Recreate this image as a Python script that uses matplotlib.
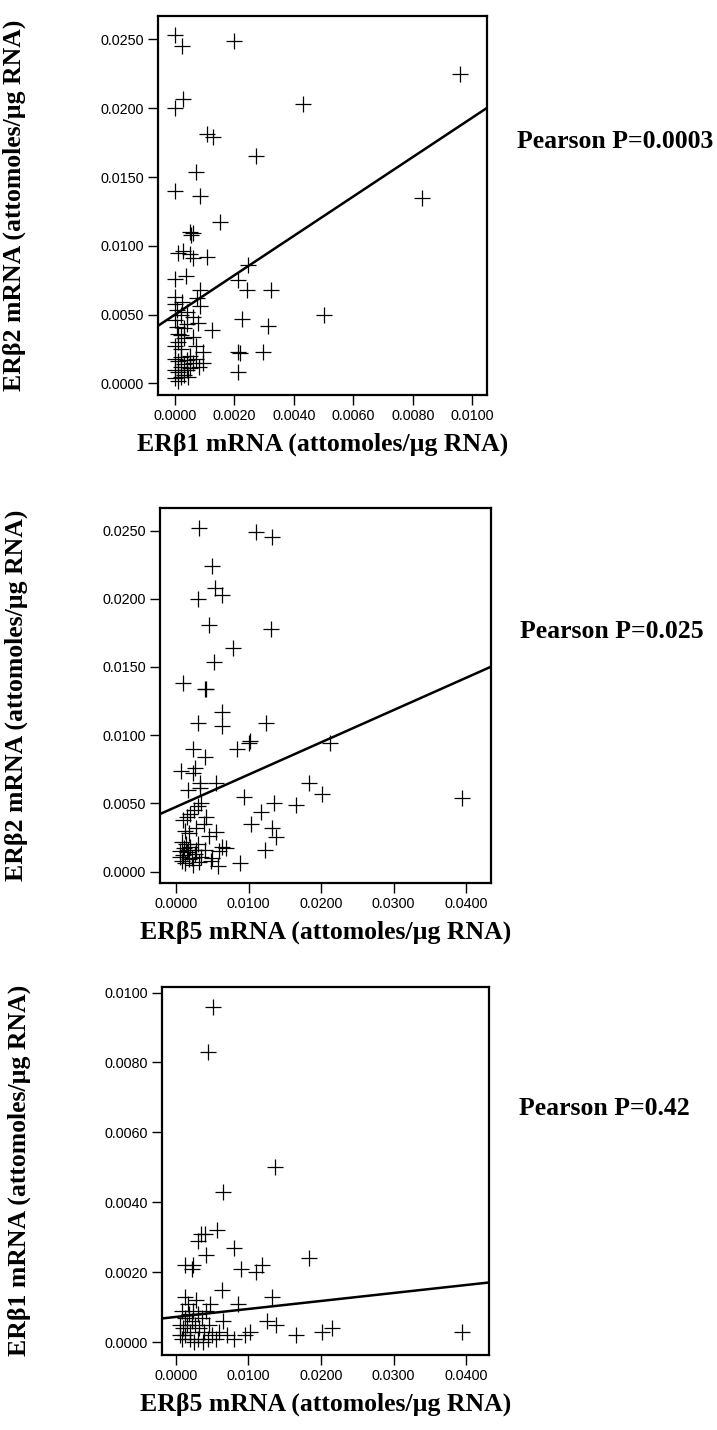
import numpy as np
import matplotlib
matplotlib.use('Agg')
import matplotlib.pyplot as plt
from matplotlib.ticker import FormatStrFormatter, MultipleLocator

# panel 1: ERb1 (x) vs ERb2 (y)
erb1_p1 = [0.0000, 0.00022, 0.0020, 0.00028, 0.0000, 0.0043, 0.0096, 0.00108, 0.00128, 0.00273,
           0.00071, 0.0000, 0.00084, 0.0083, 0.0050, 0.00152, 0.0005, 0.0006, 0.00055, 0.00011,
           0.00028, 0.0005, 0.00062, 0.00109, 0.00247, 0.0000, 0.00037, 0.00213, 0.00241, 0.00322,
           0.00084, 0.00073, 0.0000, 0.00022, 0.00006, 0.00084, 0.00225, 0.00079, 0.00039, 0.00006,
           0.00314, 0.00124, 0.00213, 0.00219, 0.00295, 0.00095, 0.00213, 0.00095, 0.00045,
           0.0000, 0.0001, 0.0002, 0.0003, 0.0000, 0.0001, 0.0002, 0.0003, 0.0004, 0.0005,
           0.0006, 0.0000, 0.0001, 0.0002, 0.0003, 0.0004, 0.0000, 0.0001, 0.0002, 0.0005,
           0.0007, 0.0008, 0.0000, 0.0002, 0.0004, 0.0001, 0.0003, 0.0006, 0.0006, 0.0000,
           0.0007, 0.0002]
erb2_p1 = [0.0253, 0.0245, 0.0249, 0.0207, 0.0200, 0.0203, 0.0225, 0.0181, 0.0179, 0.0165,
           0.0154, 0.0140, 0.0136, 0.0135, 0.0050, 0.0117, 0.0110, 0.0109, 0.0108, 0.0095,
           0.0096, 0.0094, 0.0091, 0.0092, 0.0086, 0.0076, 0.0078, 0.0075, 0.0068, 0.0068,
           0.0068, 0.0062, 0.0063, 0.0059, 0.0053, 0.0056, 0.0047, 0.0044, 0.0043, 0.0041,
           0.0042, 0.0039, 0.0023, 0.0022, 0.0023, 0.0023, 0.0008, 0.0015, 0.0005,
           0.0027, 0.0030, 0.0025, 0.0033, 0.0018, 0.0016, 0.0019, 0.0014, 0.0017, 0.0020,
           0.0015, 0.0010, 0.0008, 0.0012, 0.0006, 0.0010, 0.0004, 0.0002, 0.0005, 0.0011,
           0.0018, 0.0012, 0.0046, 0.0050, 0.0052, 0.0036, 0.0040, 0.0034, 0.0048, 0.0058,
           0.0027, 0.0035]

# panel 2: ERb5 (x) vs ERb2 (y)
erb5_p2 = [0.0032, 0.0110, 0.0133, 0.0049, 0.0054, 0.0063, 0.0031, 0.0046, 0.0131, 0.0078,
           0.0053, 0.0009, 0.0040, 0.0042, 0.0063, 0.0030, 0.0064, 0.0124, 0.0084, 0.0101,
           0.0102, 0.0024, 0.0040, 0.0007, 0.0026, 0.0024, 0.0033, 0.0055, 0.0017, 0.0033,
           0.0184, 0.0201, 0.0094, 0.0135, 0.0166, 0.0117, 0.0103, 0.0132, 0.0138, 0.0123,
           0.0055, 0.0063, 0.0069, 0.0213, 0.0395, 0.0088, 0.0050,
           0.0010, 0.0015, 0.0020, 0.0025, 0.0030, 0.0035, 0.0012, 0.0018, 0.0028, 0.0038,
           0.0008, 0.0014, 0.0020, 0.0030, 0.0040, 0.0006, 0.0010, 0.0015, 0.0022, 0.0026,
           0.0035, 0.0008, 0.0013, 0.0018, 0.0024, 0.0032, 0.0011, 0.0017, 0.0045, 0.0048,
           0.0058, 0.0005, 0.0028, 0.0042, 0.0060]
erb2_p2 = [0.0252, 0.0249, 0.0245, 0.0224, 0.0208, 0.0203, 0.0200, 0.0181, 0.0178, 0.0164,
           0.0154, 0.0138, 0.0134, 0.0134, 0.0117, 0.0109, 0.0107, 0.0109, 0.0090, 0.0094,
           0.0096, 0.0090, 0.0084, 0.0074, 0.0076, 0.0072, 0.0065, 0.0065, 0.0060, 0.0061,
           0.0065, 0.0057, 0.0055, 0.0050, 0.0049, 0.0044, 0.0035, 0.0032, 0.0025, 0.0016,
           0.0029, 0.0018, 0.0017, 0.0094, 0.0054, 0.0006, 0.0010,
           0.0038, 0.0040, 0.0042, 0.0045, 0.0048, 0.0050, 0.0030, 0.0028, 0.0032, 0.0035,
           0.0022, 0.0020, 0.0018, 0.0020, 0.0016, 0.0015, 0.0012, 0.0014, 0.0010, 0.0013,
           0.0011, 0.0008, 0.0006, 0.0009, 0.0005, 0.0007, 0.0017, 0.0016, 0.0026, 0.0008,
           0.0004, 0.0011, 0.0016, 0.0040, 0.0015]

# panel 3: ERb5 (x) vs ERb1 (y)
erb5_p3 = [0.0051, 0.0044, 0.0137, 0.0065, 0.0056, 0.0040, 0.0035, 0.0031, 0.0080, 0.0041,
           0.0184, 0.0012, 0.0024, 0.0022, 0.0089, 0.0118, 0.0111, 0.0064, 0.0012, 0.0132,
           0.0047, 0.0085, 0.0125, 0.0138, 0.0166, 0.0201, 0.0102, 0.0215, 0.0395,
           0.0008, 0.0012, 0.0018, 0.0024, 0.0030, 0.0036, 0.0042, 0.0006, 0.0010, 0.0015,
           0.0020, 0.0026, 0.0032, 0.0038, 0.0045, 0.0050, 0.0008, 0.0013, 0.0019, 0.0025,
           0.0031, 0.0037, 0.0044, 0.0055, 0.0060, 0.0070, 0.0016, 0.0028, 0.0005, 0.0022,
           0.0065, 0.0080, 0.0095]
erb1_p3 = [0.0096, 0.0083, 0.0050, 0.0043, 0.0032, 0.0031, 0.0031, 0.0029, 0.0027, 0.0025,
           0.0024, 0.0022, 0.0022, 0.0021, 0.0021, 0.0022, 0.0020, 0.0015, 0.0013, 0.0013,
           0.0011, 0.0011, 0.0006, 0.0005, 0.0002, 0.0003, 0.0003, 0.0004, 0.0003,
           0.0009, 0.0007, 0.0008, 0.0009, 0.0008, 0.0007, 0.0009, 0.0005, 0.0004, 0.0005,
           0.0003, 0.0005, 0.0004, 0.0003, 0.0005, 0.0002, 0.0001, 0.0002, 0.0001, 0.0000,
           0.0001, 0.0000, 0.0001, 0.0001, 0.0003, 0.0002, 0.0011, 0.0012, 0.0002, 0.0006,
           0.0006, 0.0001, 0.0002]

# fitted lines: (intercept, slope)
fit_p1 = (0.0050, 1.431)
fit_p2 = (0.00474, 0.2366)
fit_p3 = (0.00073, 0.0228)

pearson = ['Pearson P=0.0003', 'Pearson P=0.025', 'Pearson P=0.42']
xlabels = ['ER\u03b21 mRNA (attomoles/\u00b5g RNA)', 'ER\u03b25 mRNA (attomoles/\u00b5g RNA)',
           'ER\u03b25 mRNA (attomoles/\u00b5g RNA)']
ylabels = ['ER\u03b22 mRNA (attomoles/\u00b5g RNA)', 'ER\u03b22 mRNA (attomoles/\u00b5g RNA)',
           'ER\u03b21 mRNA (attomoles/\u00b5g RNA)']

serif = ['Liberation Serif', 'DejaVu Serif']
sans = ['Liberation Sans', 'DejaVu Sans']

fig = plt.figure(figsize=(7.17, 14.30), dpi=100)

panels = [
    dict(pos=[0.2204, 0.7238, 0.4589, 0.2650], x=erb1_p1, y=erb2_p1, fit=fit_p1,
         xlim=(-0.00057, 0.0105), ylim=(-0.00084, 0.0267), xstep=0.002, ystep=0.005),
    dict(pos=[0.2232, 0.3825, 0.4612, 0.2626], x=erb5_p2, y=erb2_p2, fit=fit_p2,
         xlim=(-0.0022, 0.0434), ylim=(-0.00084, 0.02669), xstep=0.01, ystep=0.005),
    dict(pos=[0.2255, 0.0524, 0.4569, 0.2577], x=erb5_p3, y=erb1_p3, fit=fit_p3,
         xlim=(-0.00197, 0.0432), ylim=(-0.00036, 0.01017), xstep=0.01, ystep=0.002),
]

for i, p in enumerate(panels):
    ax = fig.add_axes(p['pos'])
    ax.plot(p['x'], p['y'], linestyle='none', marker='+', markersize=11,
            markeredgewidth=0.9, color='black')
    xs = np.array(p['xlim'])
    b0, b1 = p['fit']
    ax.plot(xs, b0 + b1 * xs, color='black', linewidth=1.8)
    ax.set_xlim(p['xlim'])
    ax.set_ylim(p['ylim'])
    ax.xaxis.set_major_locator(MultipleLocator(p['xstep']))
    ax.yaxis.set_major_locator(MultipleLocator(p['ystep']))
    ax.xaxis.set_major_formatter(FormatStrFormatter('%.4f'))
    ax.yaxis.set_major_formatter(FormatStrFormatter('%.4f'))
    for s in ax.spines.values():
        s.set_linewidth(1.6)
    ax.tick_params(direction='out', length=7, width=1.0, labelsize=10.4, pad=3)
    for lab in ax.get_xticklabels() + ax.get_yticklabels():
        lab.set_family(sans)
    ax.set_xlabel(xlabels[i], family=serif, fontweight='bold', fontsize=18.5, labelpad=7)
    ax.set_ylabel(ylabels[i], family=serif, fontweight='bold', fontsize=18.5)
    ax.yaxis.set_label_coords(-0.40, 0.5)
    ax.text(1.09, 0.67, pearson[i], transform=ax.transAxes, family=serif,
            fontweight='bold', fontsize=18.5, va='center', ha='left')

fig.savefig('out.png', dpi=100)
